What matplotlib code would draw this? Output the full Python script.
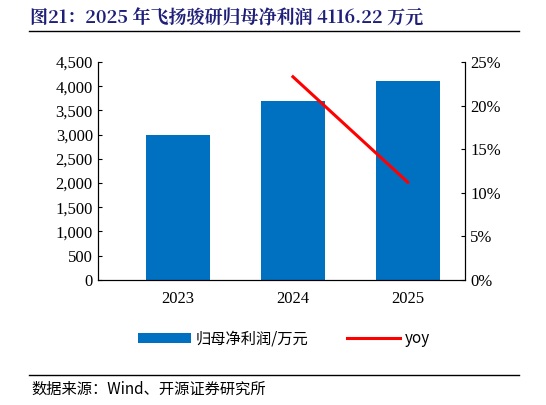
import matplotlib
matplotlib.use("Agg")
import matplotlib.pyplot as plt
from matplotlib.lines import Line2D

years = ["2023", "2024", "2025"]
profit = [3000, 3700, 4116.22]
yoy_years = [1, 2]
yoy = [23.3, 11.2]

serif = ["Liberation Serif", "Noto Serif CJK SC", "Noto Sans CJK SC"]
cjk = ["Noto Sans CJK SC", "Liberation Serif"]

fig = plt.figure(figsize=(5.46, 4.05), dpi=100)
ax = fig.add_axes([0.179, 0.309, 0.673, 0.538])
x = list(range(len(years)))
bars = ax.bar(x, profit, width=0.56, color="#0070C0", label="归母净利润/万元")
ax.set_xlim(-0.7, 2.5)
ax.set_ylim(0, 4500)
ax.set_yticks(range(0, 4501, 500))
ax.set_yticklabels([f"{v:,}" for v in range(0, 4501, 500)], fontfamily="Liberation Serif", fontsize=12)
ax.set_xticks(x)
ax.set_xticklabels(years, fontfamily="Liberation Serif", fontsize=12)
ax.tick_params(axis="x", length=0, pad=8)
ax.tick_params(axis="y", direction="in", length=3)
ax.spines["top"].set_visible(False)

ax2 = ax.twinx()
ax2.plot(yoy_years, yoy, color="#FF0000", lw=2.2)
ax2.set_ylim(0, 25)
ax2.set_yticks(range(0, 26, 5))
ax2.set_yticklabels([f"{v}%" for v in range(0, 26, 5)], fontfamily="Liberation Serif", fontsize=12)
ax2.tick_params(axis="y", direction="in", length=3)
ax2.spines["top"].set_visible(False)

handles = [bars, Line2D([], [], color="#FF0000", lw=2.2)]
fig.legend(handles, ["归母净利润/万元", "yoy"], loc="center", bbox_to_anchor=(0.52, 0.163),
           ncol=2, frameon=False, prop={"family": cjk, "size": 11}, columnspacing=2.5,
           handlelength=3.5, handletextpad=0.3)

fig.text(0.055, 0.955, "图21：2025 年飞扬骏研归母净利润 4116.22 万元", fontfamily=["Noto Serif CJK SC", "Noto Sans CJK SC"],
         fontweight="bold", fontsize=13, color="#1F1F7A", va="center")
fig.add_artist(Line2D([0.053, 0.95], [0.923, 0.923], color="black", lw=1))
fig.add_artist(Line2D([0.053, 0.95], [0.075, 0.075], color="black", lw=1))
fig.text(0.058, 0.04, "数据来源：Wind、开源证券研究所", fontfamily=cjk, fontsize=11, va="center")

fig.savefig("out.png", dpi=100)
